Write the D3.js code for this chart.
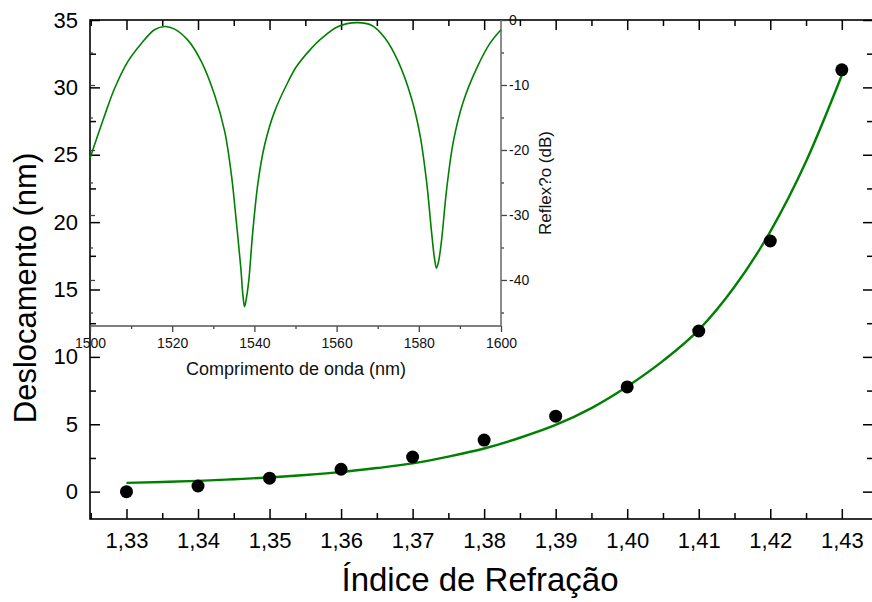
<!DOCTYPE html>
<html lang="pt">
<head>
<meta charset="utf-8">
<title>Deslocamento vs Índice de Refração</title>
<script src="https://cdn.jsdelivr.net/npm/d3@7"></script>
<style>
  body { margin: 0; background: #fff; }
  svg { font-family: "Liberation Sans", Arial, sans-serif; }
</style>
</head>
<body>
<svg id="chart" width="872" height="602"></svg>
<script>
// main plot: measured points
var indice = [1.33, 1.34, 1.35, 1.36, 1.37, 1.38, 1.39, 1.40, 1.41, 1.42, 1.43];
var desloc = [0.0, 0.42, 1.0, 1.66, 2.57, 3.83, 5.6, 7.77, 11.92, 18.6, 31.3];

// fitted curve
var fitX = [1.33, 1.335, 1.34, 1.345, 1.35, 1.355, 1.36, 1.365, 1.37, 1.375, 1.38, 1.385, 1.39, 1.395, 1.40, 1.405, 1.41, 1.415, 1.42, 1.425, 1.43];
var fitY = [0.65, 0.72, 0.8, 0.92, 1.05, 1.23, 1.45, 1.75, 2.1, 2.6, 3.2, 4.0, 4.95, 6.2, 7.8, 9.7, 12.0, 15.2, 19.3, 24.5, 30.9];

var xTicks = [1.33, 1.34, 1.35, 1.36, 1.37, 1.38, 1.39, 1.40, 1.41, 1.42, 1.43];
var yTicks = [0, 5, 10, 15, 20, 25, 30, 35];

// inset: reflection spectrum
var lambda = [1500, 1501.1, 1503.6, 1506, 1509.2, 1512.5, 1515.7, 1518.2, 1520.6, 1523.8, 1527.1, 1530.3, 1532.8, 1534.4, 1535.6, 1536.7, 1537.2, 1537.6, 1538.0, 1538.6, 1539.6, 1540.9, 1542.5, 1544.9, 1548.2, 1550.2, 1553.1, 1556.4, 1560.4, 1564.9, 1568.5, 1571.8, 1575, 1578.2, 1580.3, 1581.9, 1583.1, 1583.8, 1584.3, 1584.8, 1585.5, 1586.8, 1588.4, 1590.8, 1594.1, 1597.3, 1600];
var reflex = [-21.3, -19.2, -14.6, -10.5, -6.4, -3.6, -1.5, -1.0, -1.4, -3.1, -6.4, -11.5, -17.2, -23.8, -31, -38.2, -42.3, -44.1, -43.0, -40.3, -32.6, -24.9, -19.2, -14.1, -9.5, -7.2, -4.9, -2.8, -1.0, -0.4, -0.8, -2.8, -6.4, -12, -17.7, -24.9, -32.6, -36.6, -38.2, -37.2, -34.1, -25.9, -18.7, -12.6, -7.4, -3.6, -1.5];

var lambdaTicks = [1500, 1520, 1540, 1560, 1580, 1600];
var reflexTicks = [0, -10, -20, -30, -40];

var svg = d3.select("#chart");
var green = "#008000";

var x = d3.scaleLinear().domain([1.3249, 1.4345]).range([90, 874]);
var y = d3.scaleLinear().domain([-2.03, 35]).range([519, 20]);

function halfSteps(arr, step) {
    var out = [];
    arr.forEach(function(v) { out.push(v + step / 2); });
    return out;
}

// ---- main axes ----
var gx = svg.append("g").attr("transform", "translate(0,519)")
    .call(d3.axisBottom(x).tickValues(xTicks).tickSize(-10).tickSizeOuter(0).tickPadding(13)
        .tickFormat(function(d) { return d.toFixed(2).replace(".", ","); }));
svg.append("g").attr("transform", "translate(0,519)")
    .call(d3.axisBottom(x).tickValues(halfSteps(xTicks, 0.01).filter(function(v){ return v < 1.4345; })
        .concat([1.325])).tickSize(-6).tickFormat(""));
svg.append("g").attr("transform", "translate(0,20)")
    .call(d3.axisTop(x).tickValues(xTicks).tickSize(-10).tickFormat(""));
svg.append("g").attr("transform", "translate(0,20)")
    .call(d3.axisTop(x).tickValues(halfSteps(xTicks, 0.01).concat([1.325])).tickSize(-6).tickFormat(""));

var gy = svg.append("g").attr("transform", "translate(90,0)")
    .call(d3.axisLeft(y).tickValues(yTicks).tickSize(-10).tickSizeOuter(0).tickPadding(12));
svg.append("g").attr("transform", "translate(90,0)")
    .call(d3.axisLeft(y).tickValues(halfSteps(yTicks, 5).filter(function(v){ return v < 35; })).tickSize(-6).tickFormat(""));
svg.append("g").attr("transform", "translate(873,0)")
    .call(d3.axisRight(y).tickValues(yTicks).tickSize(-10).tickFormat(""));
svg.append("g").attr("transform", "translate(873,0)")
    .call(d3.axisRight(y).tickValues(halfSteps(yTicks, 5).filter(function(v){ return v < 35; })).tickSize(-6).tickFormat(""));

svg.selectAll(".domain").remove();
svg.selectAll(".tick line").attr("stroke", "#000").attr("stroke-width", 1.5);
gx.selectAll("text").attr("font-size", 22).attr("fill", "#000");
gy.selectAll("text").attr("font-size", 22).attr("fill", "#000");

// frame
svg.append("rect").attr("x", 90).attr("y", 20).attr("width", 783).attr("height", 499)
    .attr("fill", "none").attr("stroke", "#000").attr("stroke-width", 1.6);

// ---- inset ----
var xi = d3.scaleLinear().domain([1500, 1600]).range([90, 501]);
var yi = d3.scaleLinear().domain([-47.08, 0]).range([326, 20]);
var ins = svg.append("g");

var gxi = ins.append("g").attr("transform", "translate(0,326)")
    .call(d3.axisBottom(xi).tickValues(lambdaTicks).tickSize(6).tickPadding(6).tickSizeOuter(0)
        .tickFormat(d3.format("d")));
ins.append("g").attr("transform", "translate(0,326)")
    .call(d3.axisBottom(xi).tickValues(halfSteps(lambdaTicks, 20).filter(function(v){ return v < 1600; })).tickSize(3).tickFormat(""));
var gyi = ins.append("g").attr("transform", "translate(501,0)")
    .call(d3.axisRight(yi).tickValues(reflexTicks).tickSize(6).tickPadding(2).tickSizeOuter(0)
        .tickFormat(d3.format("d")));
ins.append("g").attr("transform", "translate(501,0)")
    .call(d3.axisRight(yi).tickValues(halfSteps(reflexTicks, -10)).tickSize(3).tickFormat(""));
ins.append("g").attr("transform", "translate(90,0)")
    .call(d3.axisLeft(yi).tickValues(reflexTicks.slice(1)).tickSize(-5).tickFormat(""));
ins.append("g").attr("transform", "translate(90,0)")
    .call(d3.axisLeft(yi).tickValues(halfSteps(reflexTicks, -10)).tickSize(-3).tickFormat(""));

ins.selectAll(".domain").remove();
ins.selectAll(".tick line").attr("stroke", "#444").attr("stroke-width", 1.3);
gxi.selectAll("text").attr("font-size", 14).attr("fill", "#111");
gyi.selectAll("text").attr("font-size", 14).attr("fill", "#111")
    .text(function(d) { return d < 0 ? "-" + Math.abs(d) : d; });

ins.append("line").attr("x1", 90).attr("x2", 501).attr("y1", 326).attr("y2", 326)
    .attr("stroke", "#555").attr("stroke-width", 1.5);
ins.append("line").attr("x1", 501).attr("x2", 501).attr("y1", 20).attr("y2", 326)
    .attr("stroke", "#666").attr("stroke-width", 1.5);

ins.append("path")
    .datum(lambda.map(function(l, i) { return [l, reflex[i]]; }))
    .attr("fill", "none").attr("stroke", green).attr("stroke-width", 1.6)
    .attr("d", d3.line().x(function(d) { return xi(d[0]); }).y(function(d) { return yi(d[1]); })
        .curve(d3.curveCatmullRom.alpha(0.5)));

ins.append("text").attr("x", 296).attr("y", 375).attr("text-anchor", "middle")
    .attr("font-size", 18).attr("fill", "#111").text("Comprimento de onda (nm)");
ins.append("text").attr("transform", "translate(551,183) rotate(-90)").attr("text-anchor", "middle")
    .attr("font-size", 17).attr("fill", "#111").text("Reflex?o (dB)");

// ---- fit + points ----
svg.append("path")
    .datum(fitX.map(function(v, i) { return [v, fitY[i]]; }))
    .attr("fill", "none").attr("stroke", green).attr("stroke-width", 2.4)
    .attr("d", d3.line().x(function(d) { return x(d[0]); }).y(function(d) { return y(d[1]); })
        .curve(d3.curveMonotoneX));

svg.selectAll("circle.pt")
    .data(indice.map(function(v, i) { return [v, desloc[i]]; }))
    .enter().append("circle").attr("class", "pt")
    .attr("cx", function(d) { return x(d[0]); })
    .attr("cy", function(d) { return y(d[1]); })
    .attr("r", 6.5).attr("fill", "#000");

// titles
svg.append("text").attr("transform", "translate(36,288) rotate(-90)").attr("text-anchor", "middle")
    .attr("font-size", 31).attr("fill", "#000").text("Deslocamento (nm)");
svg.append("text").attr("x", 480).attr("y", 591).attr("text-anchor", "middle")
    .attr("font-size", 33).attr("fill", "#000").text("Índice de Refração");
</script>
</body>
</html>
